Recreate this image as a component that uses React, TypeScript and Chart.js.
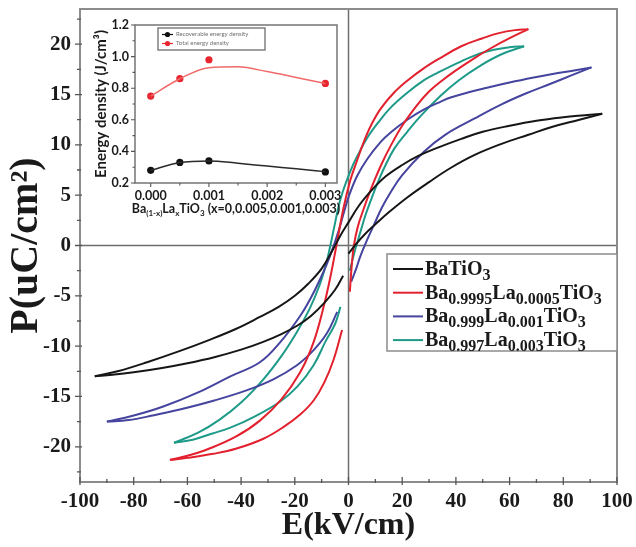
import React, { useEffect, useRef } from "react";
import { Chart, registerables } from "chart.js";

Chart.register(...registerables);

const SERIF = '"Liberation Serif", "Times New Roman", serif';
const SANS = 'Lato, "Open Sans", sans-serif';

// P–E loops. Each path runs: virgin rise 0 → +Emax, falling branch +Emax → −Emax, rising branch −Emax → 0.
const BT_E = [0, 3, 6, 10, 15, 22, 30, 38, 47, 57, 67, 76, 86, 94.5,
  88, 80, 70, 60, 50, 42, 34, 26, 20, 14, 9, 4, 0, -3, -6, -10, -15, -20, -26, -33, -42, -52, -63, -75, -86, -94.5,
  -88, -80, -70, -60, -50, -40, -32, -25, -19, -14, -9, -5, -2];
const BT_P = [-0.8, 0.2, 1.1, 2.1, 3.3, 4.8, 6.3, 7.7, 9.0, 10.1, 11.0, 11.8, 12.5, 13.1,
  12.95, 12.75, 12.4, 11.9, 11.3, 10.6, 9.8, 8.9, 8.0, 6.9, 5.6, 4.0, 2.3, 1.0, -0.5, -2.3, -3.8, -5.0, -6.1, -7.1, -8.3, -9.4, -10.5, -11.6, -12.5, -13.0,
  -12.85, -12.6, -12.2, -11.7, -11.1, -10.35, -9.6, -8.8, -7.95, -7.0, -5.7, -4.4, -3.0];

const LA5_E = [0.5, 1.2, 2, 3.5, 5.6, 7.5, 9.4, 12.5, 15.7, 20, 25.7, 30, 34.4, 40, 46.8, 53, 60, 67,
  62, 56, 50, 42, 34, 28, 22, 17, 12, 8.5, 5.7, 3, 0.7, -1.8, -4.5, -6.5, -9, -13, -18, -25, -33, -42, -52, -60, -66.5,
  -60, -50.4, -42, -31.7, -24, -18, -13, -9, -5.5, -2.4];
const LA5_P = [-4.6, -2, 0, 1.9, 3.6, 5.0, 6.3, 8.2, 9.9, 11.9, 14.0, 15.3, 16.3, 17.4, 18.6, 19.6, 20.6, 21.5,
  21.4, 21.1, 20.6, 19.8, 18.6, 17.6, 16.4, 15.2, 13.6, 12.0, 10.3, 8.3, 6.5, 3.8, 0, -2.8, -5.8, -9.6, -12.6, -15.3, -17.4, -19.0, -20.2, -20.9, -21.3,
  -21.1, -20.7, -20.2, -19.2, -18.0, -16.8, -15.4, -13.6, -11.3, -8.4];

const LA10_E = [1, 3, 4.5, 7, 9.4, 12.5, 15.7, 20, 28, 36, 46.8, 56.8, 66, 75.5, 83, 90.5,
  84, 76, 69, 60, 52, 44.4, 38, 34.4, 28, 21.9, 16, 12, 7, 3.2, 0, -1.8, -3.5, -5.5, -8, -10.5, -14, -18, -25.4, -33, -44, -56, -69, -80, -90,
  -82, -73, -62.8, -50, -38, -28, -19.2, -13, -8, -4.2];
const LA10_P = [-3.6, -2.2, -1.0, 0.6, 2.0, 3.8, 5.3, 7.0, 9.3, 11.0, 12.6, 14.0, 15.1, 16.1, 16.9, 17.7,
  17.4, 17.05, 16.7, 16.2, 15.7, 15.2, 14.7, 14.3, 13.5, 12.5, 11.3, 10.3, 8.6, 6.9, 4.8, 3.2, 1.6, 0, -1.8, -3.3, -5.2, -7.0, -9.6, -11.6, -13.0, -14.6, -16.0, -16.9, -17.5,
  -17.35, -16.9, -16.3, -15.4, -14.4, -13.3, -11.9, -10.4, -8.7, -6.6];

const LA30_E = [0.5, 2.5, 4.5, 6.3, 8.2, 10.5, 13.1, 17, 21.9, 27, 34.4, 41, 49.3, 57, 65.4,
  60, 50.5, 42, 32, 28, 22, 15.7, 11, 7, 3.5, 0.7, -3, -5.5, -7, -8.5, -11, -14.5, -19.2, -25, -31.7, -40, -48, -56, -65,
  -58, -51, -44, -35, -25.4, -19, -13, -8.5, -5, -3];
const LA30_P = [-2.5, -0.4, 1.4, 3.0, 4.4, 6.0, 7.6, 9.6, 11.3, 12.9, 14.9, 16.4, 17.9, 19.0, 19.8,
  19.7, 19.2, 18.3, 17.0, 16.4, 15.2, 13.7, 12.2, 10.7, 9.0, 7.4, 4.6, 1.6, -0.3, -2.0, -4.1, -6.3, -8.6, -11.0, -13.3, -15.6, -17.3, -18.6, -19.6,
  -19.3, -18.7, -18.1, -17.0, -15.5, -14.0, -11.9, -9.5, -7.8, -6.1];

const E_TICKS = [-100, -80, -60, -40, -20, 0, 20, 40, 60, 80, 100];
const P_TICKS = [-20, -15, -10, -5, 0, 5, 10, 15, 20];

// Inset: energy density versus La content
const LA_CONTENT = [0, 0.0005, 0.001, 0.003];
const RECOVERABLE = [0.28, 0.33, 0.34, 0.27];
const TOTAL = [0.75, 0.86, 0.98, 0.83];
const FIT_X = [0, 0.0005, 0.001, 0.0015, 0.002, 0.0025, 0.003];
const RECOVERABLE_FIT = [0.28, 0.33, 0.34, 0.325, 0.307, 0.29, 0.272];
const TOTAL_FIT = [0.75, 0.86, 0.93, 0.935, 0.905, 0.868, 0.83];
const CONTENT_TICKS = [0, 0.001, 0.002, 0.003];
const DENSITY_TICKS = [0.2, 0.4, 0.6, 0.8, 1.0, 1.2];

type Part = [string, number];
type Pt = { x: number; y: number };

const SERIES: { E: number[]; P: number[]; color: string; label: Part[] }[] = [
  { E: BT_E, P: BT_P, color: "#161616", label: [["BaTiO", 0], ["3", 1]] },
  { E: LA5_E, P: LA5_P, color: "#e3202e", label: [["Ba", 0], ["0.9995", 1], ["La", 0], ["0.0005", 1], ["TiO", 0], ["3", 1]] },
  { E: LA10_E, P: LA10_P, color: "#45449e", label: [["Ba", 0], ["0.999", 1], ["La", 0], ["0.001", 1], ["TiO", 0], ["3", 1]] },
  { E: LA30_E, P: LA30_P, color: "#1e9a88", label: [["Ba", 0], ["0.997", 1], ["La", 0], ["0.003", 1], ["TiO", 0], ["3", 1]] },
];

const INSET_LEGEND = [
  { color: "#111111", text: "Recoverable energy density" },
  { color: "#e8262f", text: "Total energy density" },
];
const INSET_XTITLE: Part[] = [["Ba", 0], ["(1-x)", 1], ["La", 0], ["x", 1], ["TiO", 0], ["3", 1], [" (x=0,0.005,0.001,0.003)", 0]];

// split a loop path at its field extremes into three branches, each ordered by field
function loopBranches(E: number[], P: number[]): Pt[][] {
  const pts = E.map((x, i) => ({ x, y: P[i] }));
  const iMax = E.indexOf(Math.max(...E));
  const iMin = E.indexOf(Math.min(...E));
  const byX = (s: Pt[]) => s.slice().sort((a, b) => a.x - b.x);
  return [pts.slice(0, iMax + 1), pts.slice(iMax, iMin + 1), pts.slice(iMin)].map(byX);
}

function richWidth(ctx: CanvasRenderingContext2D, parts: Part[], size: number, sub: number, family: string) {
  let w = 0;
  for (const [t, s] of parts) {
    ctx.font = `bold ${s ? sub : size}px ${family}`;
    w += ctx.measureText(t).width;
  }
  return w;
}

function drawRich(ctx: CanvasRenderingContext2D, x: number, base: number, parts: Part[], size: number, sub: number, drop: number, family: string) {
  let cx = x;
  ctx.textBaseline = "alphabetic";
  ctx.textAlign = "left";
  for (const [t, s] of parts) {
    ctx.font = `bold ${s ? sub : size}px ${family}`;
    ctx.fillText(t, cx, s ? base + drop : base);
    cx += ctx.measureText(t).width;
  }
}

function minorValues(major: number[], lo: number, hi: number) {
  const step = major[1] - major[0];
  const out: number[] = [];
  for (const v of major) {
    for (const m of [v - step / 2, v + step / 2]) {
      if (m >= lo - 1e-9 && m <= hi + 1e-9 && !out.some((o) => Math.abs(o - m) < 1e-9)) out.push(m);
    }
  }
  return out;
}

const mainDecor = {
  id: "mainDecor",
  beforeDatasetsDraw(chart: any) {
    const { ctx, chartArea: a, scales } = chart;
    const x0 = scales.x.getPixelForValue(0);
    const y0 = scales.y.getPixelForValue(0);
    ctx.save();
    ctx.strokeStyle = "#6e6e6e";
    ctx.lineWidth = 1.5;
    ctx.beginPath();
    ctx.moveTo(x0, a.top);
    ctx.lineTo(x0, a.bottom);
    ctx.moveTo(a.left, y0);
    ctx.lineTo(a.right, y0);
    ctx.stroke();
    ctx.restore();
  },
  afterDatasetsDraw(chart: any) {
    const { ctx, chartArea: a, scales } = chart;
    const xs = scales.x;
    const ys = scales.y;
    ctx.save();
    ctx.strokeStyle = "#8c8c8c";
    ctx.lineWidth = 2;
    ctx.strokeRect(a.left, a.top, a.right - a.left, a.bottom - a.top);

    ctx.strokeStyle = "#555";
    ctx.lineWidth = 1.3;
    ctx.beginPath();
    for (const v of E_TICKS) {
      const p = xs.getPixelForValue(v);
      ctx.moveTo(p, a.bottom + 3);
      ctx.lineTo(p, a.bottom - 5);
    }
    for (const v of minorValues(E_TICKS, xs.min, xs.max)) {
      const p = xs.getPixelForValue(v);
      ctx.moveTo(p, a.bottom + 1);
      ctx.lineTo(p, a.bottom - 3);
    }
    for (const v of P_TICKS) {
      const p = ys.getPixelForValue(v);
      ctx.moveTo(a.left - 5, p);
      ctx.lineTo(a.left + 2, p);
    }
    for (const v of minorValues(P_TICKS, ys.min, ys.max)) {
      const p = ys.getPixelForValue(v);
      ctx.moveTo(a.left - 3, p);
      ctx.lineTo(a.left + 1, p);
    }
    ctx.stroke();

    // legend
    const lw = 230;
    const lh = 97;
    const lx = a.right - lw;
    const ly = a.top + 245;
    ctx.fillStyle = "#ffffff";
    ctx.fillRect(lx, ly, lw, lh);
    ctx.strokeStyle = "#8c8c8c";
    ctx.lineWidth = 1.5;
    ctx.strokeRect(lx, ly, lw, lh);
    SERIES.forEach((s, i) => {
      const cy = ly + 15 + i * 23.7;
      ctx.strokeStyle = s.color;
      ctx.lineWidth = 2;
      ctx.beginPath();
      ctx.moveTo(lx + 6, cy);
      ctx.lineTo(lx + 36, cy);
      ctx.stroke();
      ctx.fillStyle = "#1a1a1a";
      drawRich(ctx, lx + 38, cy + 6, s.label, 20, 16, 5, SERIF);
    });
    ctx.restore();
  },
};

const insetDecor = {
  id: "insetDecor",
  afterDatasetsDraw(chart: any) {
    const { ctx, chartArea: a, scales } = chart;
    const xs = scales.x;
    const ys = scales.y;
    ctx.save();
    ctx.strokeStyle = "#7d7d7d";
    ctx.lineWidth = 1.6;
    ctx.strokeRect(a.left, a.top, a.right - a.left, a.bottom - a.top);

    ctx.strokeStyle = "#555";
    ctx.lineWidth = 1.1;
    ctx.beginPath();
    for (const v of CONTENT_TICKS) {
      const p = xs.getPixelForValue(v);
      ctx.moveTo(p, a.bottom);
      ctx.lineTo(p, a.bottom + 4);
    }
    for (const v of minorValues(CONTENT_TICKS, xs.min, xs.max)) {
      const p = xs.getPixelForValue(v);
      ctx.moveTo(p, a.bottom);
      ctx.lineTo(p, a.bottom + 2.5);
    }
    for (const v of DENSITY_TICKS) {
      const p = ys.getPixelForValue(v);
      ctx.moveTo(a.left - 4, p);
      ctx.lineTo(a.left, p);
    }
    for (const v of minorValues(DENSITY_TICKS, ys.min, ys.max)) {
      const p = ys.getPixelForValue(v);
      ctx.moveTo(a.left - 2.5, p);
      ctx.lineTo(a.left, p);
    }
    ctx.stroke();

    // legend box
    const bx = a.left + 23;
    const by = a.top + 3;
    const bw = 107;
    const bh = 22;
    ctx.fillStyle = "#ffffff";
    ctx.fillRect(bx, by, bw, bh);
    ctx.strokeStyle = "#777";
    ctx.lineWidth = 1.4;
    ctx.strokeRect(bx, by, bw, bh);
    INSET_LEGEND.forEach((r, i) => {
      const cy = by + 6.5 + i * 9;
      ctx.strokeStyle = r.color;
      ctx.lineWidth = 1.2;
      ctx.beginPath();
      ctx.moveTo(bx + 4, cy);
      ctx.lineTo(bx + 15, cy);
      ctx.stroke();
      ctx.fillStyle = r.color;
      ctx.beginPath();
      ctx.arc(bx + 9.5, cy, 2.6, 0, Math.PI * 2);
      ctx.fill();
      ctx.fillStyle = "#707070";
      ctx.font = `6px ${SANS}`;
      ctx.textBaseline = "middle";
      ctx.textAlign = "left";
      ctx.fillText(r.text, bx + 18, cy);
    });

    // composition axis title
    ctx.fillStyle = "#1a1a1a";
    const w = richWidth(ctx, INSET_XTITLE, 12.5, 8, SANS);
    drawRich(ctx, (a.left + a.right) / 2 - w / 2, a.bottom + 30, INSET_XTITLE, 12.5, 8, 3, SANS);
    ctx.restore();
  },
};

export default function App() {
  const mainRef = useRef<HTMLCanvasElement>(null);
  const insetRef = useRef<HTMLCanvasElement>(null);

  useEffect(() => {
    const datasets: any[] = [];
    for (const s of SERIES) {
      for (const branch of loopBranches(s.E, s.P)) {
        datasets.push({
          data: branch,
          borderColor: s.color,
          borderWidth: 2,
          pointRadius: 0,
          fill: false,
          tension: 0.4,
        });
      }
    }

    const main = new Chart(mainRef.current as HTMLCanvasElement, {
      type: "line",
      data: { datasets },
      options: {
        animation: false,
        responsive: false,
        devicePixelRatio: 1,
        events: [],
        layout: { padding: { top: 9, right: 19, left: 0, bottom: 0 } },
        plugins: { legend: { display: false }, tooltip: { enabled: false } },
        scales: {
          x: {
            type: "linear",
            min: -100,
            max: 100,
            afterBuildTicks: (s: any) => {
              s.ticks = E_TICKS.map((value) => ({ value }));
            },
            afterFit: (s: any) => {
              s.height = 65;
              s.paddingLeft = 0;
              s.paddingRight = 0;
            },
            grid: { display: false, drawTicks: false },
            border: { display: false },
            ticks: {
              autoSkip: false,
              maxRotation: 0,
              padding: 7,
              color: "#1a1a1a",
              font: { family: SERIF, size: 21, weight: "bold" },
              callback: (v: any) => String(v),
            },
            title: {
              display: true,
              text: "E(kV/cm)",
              color: "#1a1a1a",
              font: { family: SERIF, size: 32, weight: "bold" },
              padding: { top: 0, bottom: 2 },
            },
          },
          y: {
            type: "linear",
            min: -23.5,
            max: 23.5,
            afterBuildTicks: (s: any) => {
              s.ticks = P_TICKS.map((value) => ({ value }));
            },
            afterFit: (s: any) => {
              s.width = 80;
              s.paddingTop = 0;
              s.paddingBottom = 0;
            },
            grid: { display: false, drawTicks: false },
            border: { display: false },
            ticks: {
              padding: 9,
              color: "#1a1a1a",
              font: { family: SERIF, size: 21, weight: "bold" },
              callback: (v: any) => String(v),
            },
            title: {
              display: true,
              text: "P(uC/cm²)",
              color: "#1a1a1a",
              font: { family: SERIF, size: 40, weight: "bold" },
              padding: { top: 3, bottom: 0 },
            },
          },
        },
      },
      plugins: [mainDecor],
    } as any);

    const inset = new Chart(insetRef.current as HTMLCanvasElement, {
      type: "line",
      data: {
        datasets: [
          {
            data: FIT_X.map((x, i) => ({ x, y: TOTAL_FIT[i] })),
            borderColor: "#f06a6a",
            borderWidth: 1.5,
            pointRadius: 0,
            cubicInterpolationMode: "monotone",
          },
          {
            data: FIT_X.map((x, i) => ({ x, y: RECOVERABLE_FIT[i] })),
            borderColor: "#2a2a2a",
            borderWidth: 1.5,
            pointRadius: 0,
            cubicInterpolationMode: "monotone",
          },
          {
            data: LA_CONTENT.map((x, i) => ({ x, y: TOTAL[i] })),
            showLine: false,
            pointRadius: 3.6,
            pointBorderWidth: 0,
            pointBackgroundColor: "#e8262f",
          },
          {
            data: LA_CONTENT.map((x, i) => ({ x, y: RECOVERABLE[i] })),
            showLine: false,
            pointRadius: 3.6,
            pointBorderWidth: 0,
            pointBackgroundColor: "#111111",
          },
        ],
      },
      options: {
        animation: false,
        responsive: false,
        devicePixelRatio: 1,
        events: [],
        layout: { padding: { top: 15, right: 5, left: 0, bottom: 0 } },
        plugins: { legend: { display: false }, tooltip: { enabled: false } },
        scales: {
          x: {
            type: "linear",
            min: -0.00027,
            max: 0.0032,
            afterBuildTicks: (s: any) => {
              s.ticks = CONTENT_TICKS.map((value) => ({ value }));
            },
            afterFit: (s: any) => {
              s.height = 42;
              s.paddingLeft = 0;
              s.paddingRight = 0;
            },
            grid: { display: false, drawTicks: false },
            border: { display: false },
            ticks: {
              autoSkip: false,
              maxRotation: 0,
              padding: 5,
              color: "#1a1a1a",
              font: { family: SANS, size: 12.5, weight: "bold" },
              callback: (v: any) => Number(v).toFixed(3),
            },
          },
          y: {
            type: "linear",
            min: 0.2,
            max: 1.2,
            afterBuildTicks: (s: any) => {
              s.ticks = DENSITY_TICKS.map((value) => ({ value }));
            },
            afterFit: (s: any) => {
              s.width = 45;
              s.paddingTop = 0;
              s.paddingBottom = 0;
            },
            grid: { display: false, drawTicks: false },
            border: { display: false },
            ticks: {
              padding: 6,
              color: "#1a1a1a",
              font: { family: SANS, size: 12.5, weight: "bold" },
              callback: (v: any) => Number(v).toFixed(1),
            },
            title: {
              display: true,
              text: "Energy density (J/cm³)",
              color: "#1a1a1a",
              font: { family: SANS, size: 15, weight: "bold" },
              padding: { top: 2, bottom: 0 },
            },
          },
        },
      },
      plugins: [insetDecor],
    } as any);

    return () => {
      main.destroy();
      inset.destroy();
    };
  }, []);

  return (
    <div style={{ position: "fixed", left: 0, top: 0, width: 636, height: 547, background: "#ffffff" }}>
      <canvas ref={mainRef} width={636} height={547} style={{ position: "absolute", left: 0, top: 0 }} />
      <canvas ref={insetRef} width={252} height={215} style={{ position: "absolute", left: 90, top: 10 }} />
    </div>
  );
}
